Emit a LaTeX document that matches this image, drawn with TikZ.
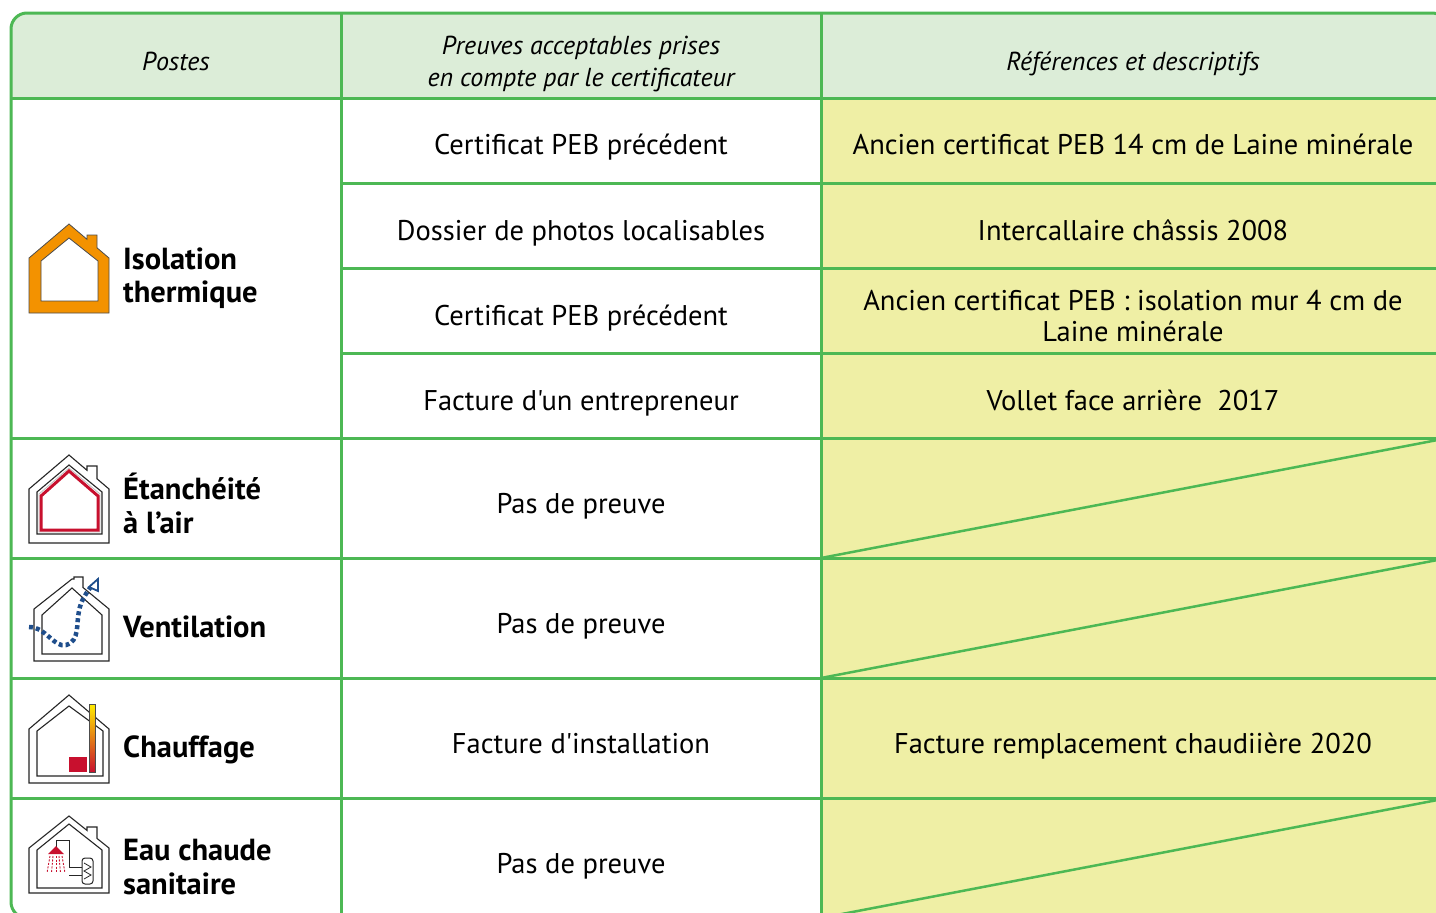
\documentclass[tikz,border=0pt]{standalone}
\usepackage{fontspec}
\setmainfont{PT Sans}
\newfontfamily\ptplain{PT Sans}
\definecolor{grn}{RGB}{77,184,84}
\definecolor{hdr}{RGB}{220,237,216}
\definecolor{ylw}{RGB}{239,239,165}
\definecolor{orng}{RGB}{243,146,0}
\definecolor{rd}{RGB}{200,16,46}
\definecolor{blu}{RGB}{31,78,140}
\tikzset{
  grid/.style={draw=grn, line width=3pt},
  body/.style={font=\ptplain\fontsize{28.5}{34}\selectfont, anchor=base, inner sep=0pt},
  head/.style={font=\fontsize{26}{32}\selectfont\itshape, anchor=base, inner sep=0pt},
  lab/.style={font=\fontsize{30.5}{34}\selectfont\bfseries, anchor=base west, inner sep=0pt},
  ico/.style={draw=black!85, line width=1.1pt, line join=miter},
}
\begin{document}
\begin{tikzpicture}[x=1pt,y=-1pt]
\useasboundingbox (0,0) rectangle (1436,913);
\clip (0,0) rectangle (1436,913);
% backgrounds
\begin{scope}
\clip[rounded corners=16pt] (11,13) rectangle (1448,918);
\fill[white] (11,13) rectangle (1448,918);
\fill[hdr] (11,13) rectangle (1448,98);
\fill[ylw] (821,98) rectangle (1448,918);
\end{scope}
% grid
\draw[grid, rounded corners=16pt] (11,13) rectangle (1448,918);
\draw[grid] (341,13) -- (341,918);
\draw[grid] (821,13) -- (821,918);
\draw[grid] (11,98) -- (1448,98);
\foreach \yy in {183,268,353} {\draw[grid] (341,\yy) -- (1448,\yy);}
\foreach \yy in {438,558,678,798} {\draw[grid] (11,\yy) -- (1448,\yy);}
% diagonals
\coordinate (d1a) at (821,558); \coordinate (d1b) at (1448,438);
\coordinate (d2a) at (821,678); \coordinate (d2b) at (1448,558);
\coordinate (d3a) at (821,918); \coordinate (d3b) at (1448,798);
\draw[grid, line width=2.5pt] (d1a) -- (d1b);
\draw[grid, line width=2.5pt] (d2a) -- (d2b);
\draw[grid, line width=2.5pt] (d3a) -- (d3b);
% header
\node[head] (h1) at (176,70) {Postes};
\node[head] (h2a) at (581,54) {Preuves acceptables prises};
\node[head] (h2b) at (581,86) {en compte par le certificateur};
\node[head] (h3) at (1133,70) {Références et descriptifs};
% column 2
\node[body] (p1) at (581,154) {Certificat PEB précédent};
\node[body] (p2) at (581,240) {Dossier de photos localisables};
\node[body] (p3) at (581,325) {Certificat PEB précédent};
\node[body] (p4) at (581,410) {Facture d'un entrepreneur};
\node[body] (p5) at (581,513) {Pas de preuve};
\node[body] (p6) at (581,633) {Pas de preuve};
\node[body] (p7) at (581,753) {Facture d'installation};
\node[body] (p8) at (581,873) {Pas de preuve};
% column 3
\node[body] (r1) at (1133,154) {Ancien certificat PEB 14 cm de Laine minérale};
\node[body] (r2) at (1133,240) {Intercallaire châssis 2008};
\node[body] (r3a) at (1133,310) {Ancien certificat PEB : isolation mur 4 cm de};
\node[body] (r3b) at (1133,341) {Laine minérale};
\node[body] (r4) at (1133,410) {Vollet face arrière\ \ 2017};
\node[body] (r7) at (1133,753) {Facture remplacement chaudiière 2020};
% column 1 labels
\node[lab] (l1a) at (123,269) {Isolation};
\node[lab] (l1b) at (123,302) {thermique};
\node[lab] (l2a) at (123,499) {Étanchéité};
\node[lab] (l2b) at (123,533) {à l’air};
\node[lab] (l3) at (123,637) {Ventilation};
\node[lab] (l4) at (123,757) {Chauffage};
\node[lab] (l5a) at (123,860) {Eau chaude};
\node[lab] (l5b) at (123,894) {sanitaire};
% icon 1 : thermal insulation
\filldraw[fill=orng, draw=black!70, line width=0.8pt, even odd rule]
  (29,313) -- (29,258) -- (69,224) -- (87,239.3) -- (87,235) -- (97,235) -- (97,247.8) -- (109,258) -- (109,313) -- cycle
  (41,301) -- (41,261) -- (69,238) -- (98,261) -- (98,301) -- cycle;
% icon 2 : airtightness
\draw[ico] (29,543) -- (29,489) -- (69,455) -- (87,470.3) -- (87,466) -- (97,466) -- (97,478.8) -- (109,489) -- (109,543) -- cycle;
\draw[ico] (37,534) -- (37,492) -- (69,465) -- (102,492) -- (102,534) -- cycle;
\draw[draw=black!25, line width=0.8pt] (39,532) -- (39,494) -- (69,468) -- (100,494) -- (100,532) -- cycle;
\draw[draw=rd, line width=3pt, line join=miter] (41,530) -- (41,496) -- (69,471) -- (98,496) -- (98,530) -- cycle;
% icon 3 : ventilation
\draw[ico] (34,661) -- (34,609) -- (72,579) -- (74,579) -- (74,577) -- (83,577) -- (83,587.5) -- (109,609) -- (109,661) -- cycle;
\draw[ico] (42,654) -- (42,615) -- (72,588) -- (102,615) -- (102,654) -- cycle;
\draw[blu, line width=4.5pt, dash pattern=on 4pt off 3pt]
  (29,627) .. controls (46,627) and (54,648) .. (66,645) .. controls (80,641) and (76,624) .. (79,611) .. controls (81,600) and (86,594) .. (90,588);
\draw[blu, line width=1.8pt, line join=miter] (89,587) -- (98,579) -- (98,591) -- cycle;
% icon 4 : heating
\draw[ico] (29,783) -- (29,729) -- (69,695) -- (109,729) -- (109,783) -- cycle;
\draw[ico] (37,776) -- (37,731) -- (69,706) -- (103,731) -- (103,776) -- cycle;
\fill[rd] (69,757) rectangle (87,772);
\shade[top color=yellow!85!orange, bottom color=rd] (89,704) rectangle (95,772);
\draw[black!70, line width=0.6pt] (89,704) rectangle (95,772);
% icon 5 : domestic hot water
\draw[ico] (29,893) -- (29,848) -- (69,816) -- (87,830.4) -- (87,827) -- (97,827) -- (97,838.4) -- (109,848) -- (109,893) -- cycle;
\draw[ico] (37,888) -- (37,850) -- (69,824) -- (102,850) -- (102,888) -- cycle;
\draw[black!85, line width=1pt] (56,847) -- (56,840) -- (69,840) -- (69,867) -- (82,867);
\draw[black!85, line width=1pt] (69,875) -- (82,875);
\fill[rd] (48,854) -- (56,846) -- (64,854) -- cycle;
\foreach \xa/\xb in {50/47,53/51.5,56/56,59/60.5,62/65} {\draw[rd, line width=0.9pt, dash pattern=on 2pt off 1.5pt] (\xa,856) -- (\xb,873);}
\draw[black!85, line width=1pt, rounded corners=3pt] (82,858) rectangle (93,884);
\draw[black!85, line width=0.8pt] (84,863) -- (91,867) -- (84,871) -- (91,875) -- (84,879);
\end{tikzpicture}
\end{document}
